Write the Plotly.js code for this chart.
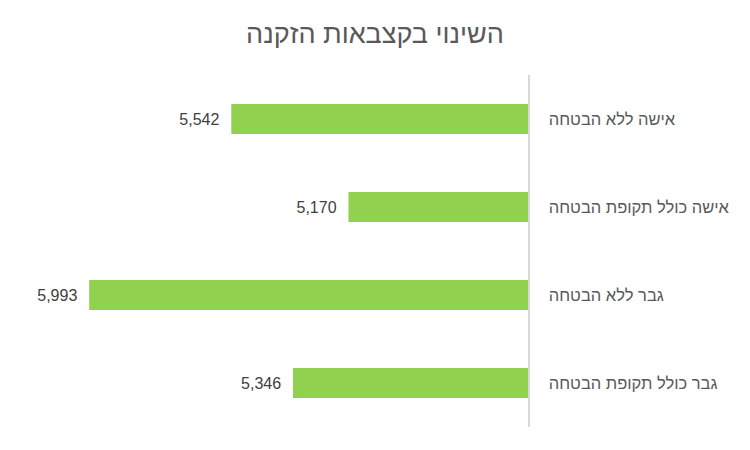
<!DOCTYPE html>
<html>
<head>
<meta charset="utf-8">
<script src="https://cdn.plot.ly/plotly-3.0.1.min.js"></script>
<style>
  body { margin: 0; background: #fff; }
  #chart { width: 750px; height: 450px; }
</style>
</head>
<body>
<div id="chart"></div>
<script>
var categories = ['אישה ללא הבטחה', 'אישה כולל תקופת הבטחה', 'גבר ללא הבטחה', 'גבר כולל תקופת הבטחה'];
var values = [5542, 5170, 5993, 5346];

var font = 'Liberation Sans, Open Sans, DejaVu Sans, sans-serif';

var trace = {
    type: 'bar',
    orientation: 'h',
    x: values,
    y: categories,
    marker: {color: '#92D050'},
    width: 0.34,
    texttemplate: '%{x:,}\u00a0\u00a0',
    textposition: 'outside',
    textfont: {color: '#404040', size: 16, family: font},
    cliponaxis: false,
    hoverinfo: 'x+y'
};

var layout = {
    width: 750,
    height: 450,
    margin: {l: 87, r: 222, t: 75, b: 23},
    paper_bgcolor: '#fff',
    plot_bgcolor: '#fff',
    showlegend: false,
    font: {family: font, color: '#595959'},
    title: {
        text: 'השינוי בקצבאות הזקנה',
        font: {size: 27, color: '#595959', family: font},
        x: 0.5,
        xanchor: 'center',
        y: 0.925,
        yanchor: 'middle'
    },
    xaxis: {
        range: [6000, 4600],
        autorange: false,
        showgrid: false,
        zeroline: false,
        showticklabels: false,
        showline: false
    },
    yaxis: {
        side: 'right',
        autorange: 'reversed',
        showgrid: false,
        zeroline: false,
        showline: true,
        linecolor: '#d9d9d9',
        linewidth: 1.5,
        ticks: '',
        ticklabelstandoff: 16,
        tickfont: {size: 16.5, color: '#595959', family: font}
    }
};

Plotly.newPlot('chart', [trace], layout, {displayModeBar: false, staticPlot: true});
</script>
</body>
</html>
